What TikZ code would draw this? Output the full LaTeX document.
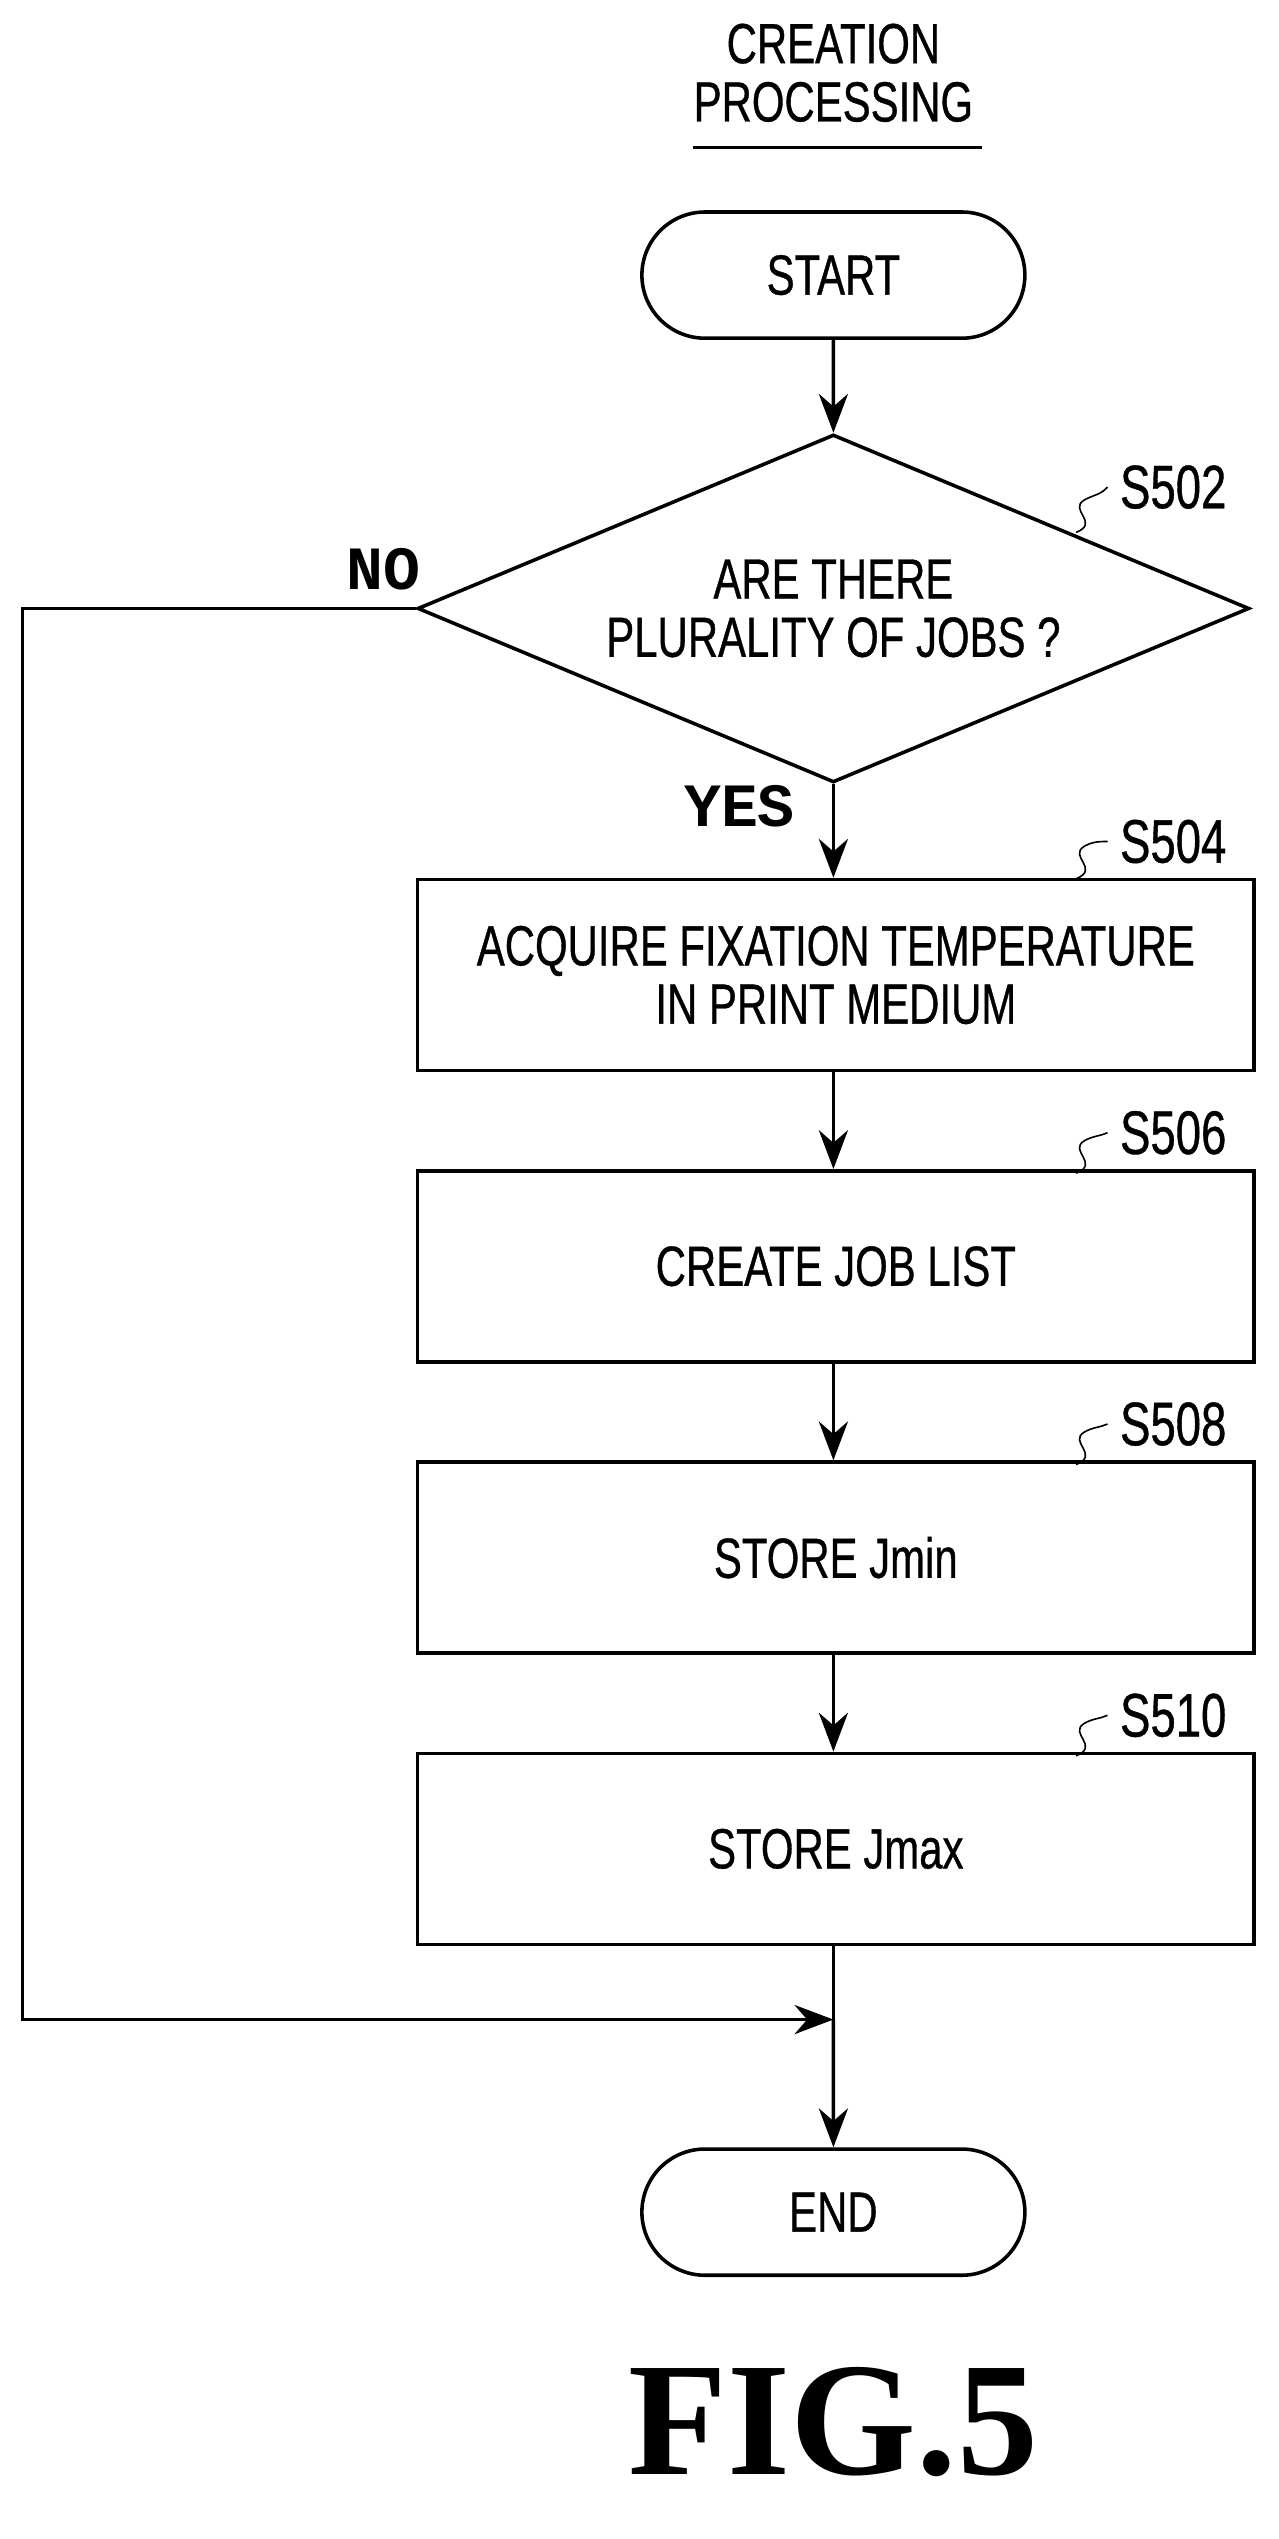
\documentclass[tikz,border=0pt]{standalone}
\usepackage{fontspec}
\setmainfont{Liberation Sans}[FakeStretch=0.74,FakeBold=0.6]
\newfontfamily\monob{Liberation Mono}
\newfontfamily\figfont{Liberation Serif}
\usetikzlibrary{shapes.geometric,shapes.misc,arrows.meta}
\begin{document}
\begin{tikzpicture}[x=0.5pt,y=-0.5pt,
  line width=1.1pt,
  arr/.style={-{Stealth[length=12pt,width=9pt]}},
  txt/.style={font=\fontsize{17.5}{18}\selectfont,align=center},
  procbox/.style={draw,minimum width=258.5pt,minimum height=59pt,txt},
  term/.style={draw,rounded rectangle,minimum width=125pt,minimum height=39pt,txt},
  lab/.style={font=\fontsize{19}{20}\selectfont},
  yn/.style={font=\monob\bfseries\fontsize{19}{20}\selectfont}]
\useasboundingbox (0,0) rectangle (790,1569);
\node[txt] (title) at (515,45) {CREATION\\PROCESSING};
\draw[line width=0.8pt] (428,91) -- (607,91);
\node[term] (start) at (515,170) {START};
\node[draw,diamond,aspect=2.39,minimum width=257pt,minimum height=107.5pt,inner sep=0pt,txt] (d) at (515,376) {ARE THERE\\PLURALITY OF JOBS ?};
\node[procbox] (s504) at (516.5,602.5) {ACQUIRE FIXATION TEMPERATURE\\IN PRINT MEDIUM};
\node[procbox] (s506) at (516.5,782.5) {CREATE JOB LIST};
\node[procbox] (s508) at (516.5,962.5) {STORE Jmin};
\node[procbox] (s510) at (516.5,1142.5) {STORE Jmax};
\node[term] (end) at (515,1367) {END};
\coordinate (j) at (515,1248);
\coordinate (l1) at (14,376);
\coordinate (l2) at (14,1248);
\draw[arr] (start) -- (d);
\draw[arr] (d.south) -- (s504.north -| d.south);
\draw[arr] (s504.south -| d.south) -- (s506.north -| d.south);
\draw[arr] (s506.south -| d.south) -- (s508.north -| d.south);
\draw[arr] (s508.south -| d.south) -- (s510.north -| d.south);
\draw (s510.south -| d.south) -- (j);
\draw[arr] (j) -- (end);
\draw[arr] (d.west) -- (l1) -- (l2) -- (j);
\node[yn] (no) at (237,352) {NO};
\node[yn] (yes) at (457,498) {YES};
\node[lab] (l502) at (725,301) {S502};
\node[lab] (l504) at (725,520) {S504};
\node[lab] (l506) at (725,700) {S506};
\node[lab] (l508) at (725,880) {S508};
\node[lab] (l510) at (725,1060) {S510};
\foreach \n/\y in {l502/329,l504/543,l506/725,l508/905,l510/1085}{
  \draw[line width=0.5pt] (665,\y) .. controls (680,\y-6) and (660,\y-14) .. (670,\y-20) .. controls (675,\y-23) and (680,\y-23) .. (\n.west);
}
\node[font=\figfont\bfseries\fontsize{50}{52}\selectfont] (fig) at (515,1497) {FIG.5};
\end{tikzpicture}
\end{document}
